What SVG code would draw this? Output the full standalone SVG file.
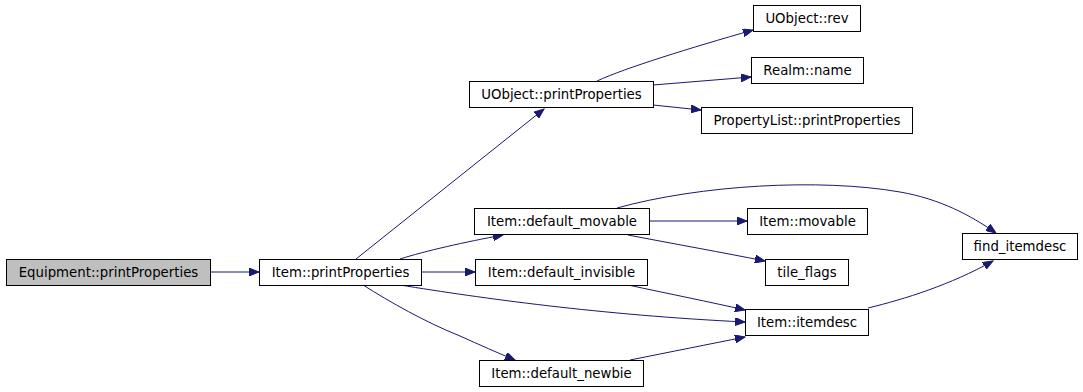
<svg xmlns="http://www.w3.org/2000/svg" width="1083" height="392" viewBox="0 0 1083 392">
<style>
.n rect{fill:#fff;stroke:#000;stroke-width:1}
.n text{font-family:"DejaVu Sans",sans-serif;font-size:13.3px;fill:#000;text-anchor:middle}
.e path{fill:none;stroke:#191970;stroke-width:1;marker-end:url(#ah)}
</style>
<defs>
<marker id="ah" markerUnits="userSpaceOnUse" markerWidth="11" markerHeight="8" refX="10" refY="4" orient="auto">
<path d="M0,0 L10,4 L0,8 z" fill="#191970" stroke="#191970" stroke-width="1"/>
</marker>
</defs>
<rect width="1083" height="392" fill="#fff"/>
<g id="edges" class="e">
<path d="M210,272 L259,272"/>
<path d="M356,259 L544,109"/>
<path d="M400,259 C425,251 465,242 503,235"/>
<path d="M421,272 L475,272"/>
<path d="M400,285 C480,298 600,315 745,322"/>
<path d="M363,285 C390,302 425,322 460,336 C480,345 498,353 515,360"/>
<path d="M597,81 C625,68 690,48 753,30"/>
<path d="M653,85 L751,77"/>
<path d="M653,105 L701,110"/>
<path d="M649,221 L747,221"/>
<path d="M628,235 C680,245 720,252 765,261"/>
<path d="M617,208 C700,185 820,178 900,192 C940,199 970,215 996,233"/>
<path d="M628,285 C670,294 710,302 745,310"/>
<path d="M630,360 C670,352 710,344 745,337"/>
<path d="M868,308 C905,299 950,285 993,261"/>
</g>
<g id="n_equipment" class="n"><rect x="6.5" y="259.5" width="204" height="26" style="fill:#bfbfbf"/><text x="108.5" y="277">Equipment::printProperties</text></g>
<g id="n_item_pp" class="n"><rect x="259.5" y="259.5" width="162" height="26"/><text x="340.5" y="277">Item::printProperties</text></g>
<g id="n_uobject_pp" class="n"><rect x="469.5" y="81.5" width="184" height="26"/><text x="561.5" y="99">UObject::printProperties</text></g>
<g id="n_uobject_rev" class="n"><rect x="753.5" y="5.5" width="107" height="26"/><text x="807" y="23">UObject::rev</text></g>
<g id="n_realm_name" class="n"><rect x="751.5" y="57.5" width="112" height="26"/><text x="807.5" y="75">Realm::name</text></g>
<g id="n_proplist" class="n"><rect x="701.5" y="107.5" width="211" height="26"/><text x="807" y="125">PropertyList::printProperties</text></g>
<g id="n_default_movable" class="n"><rect x="474.5" y="208.5" width="175" height="26"/><text x="562" y="226">Item::default_movable</text></g>
<g id="n_movable" class="n"><rect x="747.5" y="208.5" width="120" height="26"/><text x="807.5" y="226">Item::movable</text></g>
<g id="n_default_invisible" class="n"><rect x="475.5" y="259.5" width="172" height="26"/><text x="561.5" y="277">Item::default_invisible</text></g>
<g id="n_tile_flags" class="n"><rect x="765.5" y="259.5" width="83" height="26"/><text x="807" y="277">tile_flags</text></g>
<g id="n_itemdesc" class="n"><rect x="745.5" y="309.5" width="123" height="26"/><text x="807" y="327">Item::itemdesc</text></g>
<g id="n_default_newbie" class="n"><rect x="479.5" y="360.5" width="164" height="26"/><text x="561.5" y="378">Item::default_newbie</text></g>
<g id="n_find_itemdesc" class="n"><rect x="962.5" y="233.5" width="115" height="26"/><text x="1020" y="251">find_itemdesc</text></g>
</svg>
